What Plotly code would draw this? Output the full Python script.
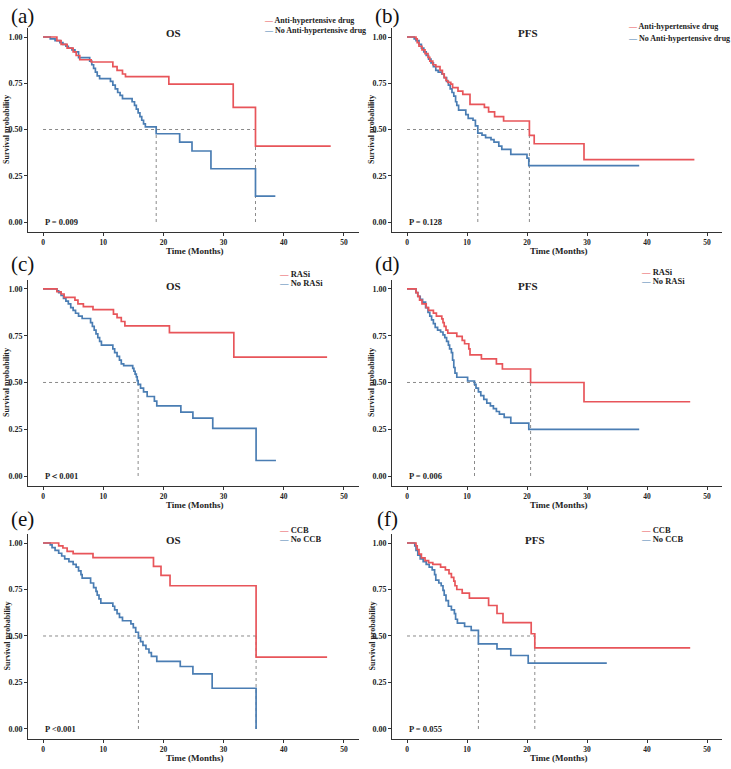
import plotly.graph_objects as go

# ---------------- data ----------------
panel_letters = ["(a)", "(b)", "(c)", "(d)", "(e)", "(f)"]
panel_titles = ["OS", "PFS", "OS", "PFS", "OS", "PFS"]
group_names = [
    ("Anti-hypertensive drug", "No Anti-hypertensive drug"),
    ("Anti-hypertensive drug", "No Anti-hypertensive drug"),
    ("RASi", "No RASi"),
    ("RASi", "No RASi"),
    ("CCB", "No CCB"),
    ("CCB", "No CCB"),
]
p_values = ["P = 0.009", "P = 0.128", "P\uff1c0.001", "P = 0.006", "P <0.001", "P = 0.055"]
x_ticks = [0, 10, 20, 30, 40, 50]
y_ticks = [0.0, 0.25, 0.5, 0.75, 1.0]

# (a) OS, anti-hypertensive drug
a_t1 = [0, 2.3, 3.0, 4.0, 5.0, 5.5, 6.1, 8.0, 11.6, 12.3, 13.2, 13.7, 20.9, 31.6, 35.3, 47.8]
a_s1 = [1, 0.98, 0.96, 0.94, 0.92, 0.90, 0.877, 0.865, 0.84, 0.82, 0.80, 0.786, 0.745, 0.62, 0.41, 0.41]
a_t2 = [0, 1.2, 2.0, 2.8, 3.3, 3.8, 4.2, 4.8, 5.3, 5.9, 7.75, 8.1, 8.4, 8.7, 9.0, 9.4, 11.2, 11.6,
        12.0, 12.4, 12.8, 13.2, 14.8, 15.2, 15.5, 15.8, 16.1, 16.4, 16.7, 17.0, 18.8, 22.7, 24.75,
        27.9, 35.3, 38.6]
a_s2 = [1, 0.99, 0.98, 0.97, 0.96, 0.95, 0.94, 0.93, 0.92, 0.888, 0.87, 0.85, 0.83, 0.81, 0.79,
        0.775, 0.76, 0.74, 0.72, 0.70, 0.685, 0.667, 0.65, 0.63, 0.61, 0.59, 0.57, 0.55, 0.53,
        0.514, 0.477, 0.432, 0.384, 0.288, 0.14, 0.14]

# (b) PFS, anti-hypertensive drug
b_t1 = [0, 1.5, 1.7, 2.0, 2.5, 3.0, 3.5, 3.8, 4.3, 4.8, 5.5, 5.9, 6.2, 6.5, 6.8, 7.3, 7.6, 8.5,
        9.3, 10.5, 12.9, 13.6, 14.6, 16.1, 20.4, 21.2, 29.5, 47.9]
b_s1 = [1, 0.99, 0.97, 0.95, 0.93, 0.91, 0.89, 0.87, 0.85, 0.84, 0.82, 0.80, 0.78, 0.765, 0.755,
        0.745, 0.726, 0.708, 0.69, 0.636, 0.62, 0.595, 0.57, 0.546, 0.468, 0.423, 0.337, 0.337]
b_t2 = [0, 1.2, 1.5, 2.0, 2.4, 2.8, 3.2, 3.6, 4.0, 4.4, 4.8, 5.2, 5.8, 6.2, 6.6, 6.9, 7.2, 7.5,
        7.8, 8.1, 8.3, 8.6, 9.8, 10.2, 11.0, 11.4, 11.8, 12.5, 13.1, 14.0, 14.5, 15.3, 15.8, 17.3,
        20.0, 20.3, 38.7]
b_s2 = [1, 0.99, 0.98, 0.96, 0.94, 0.92, 0.90, 0.88, 0.86, 0.84, 0.82, 0.81, 0.80, 0.78, 0.76,
        0.74, 0.72, 0.70, 0.68, 0.65, 0.63, 0.605, 0.58, 0.56, 0.55, 0.52, 0.48, 0.47, 0.456, 0.445,
        0.432, 0.41, 0.393, 0.366, 0.345, 0.305, 0.305]

# (c) OS, RASi
c_t1 = [0, 2.3, 3.0, 3.5, 5.3, 5.8, 6.7, 8.3, 11.7, 12.3, 13.0, 13.6, 21.0, 31.7, 47.2]
c_s1 = [1, 0.985, 0.973, 0.955, 0.94, 0.92, 0.905, 0.889, 0.865, 0.847, 0.826, 0.803, 0.767,
        0.636, 0.636]
c_t2 = [0, 2.3, 2.6, 3.0, 3.4, 3.8, 4.2, 4.6, 5.0, 5.4, 5.9, 6.5, 7.9, 8.2, 8.5, 8.8, 9.1, 9.4,
        9.7, 11.6, 11.9, 12.3, 12.7, 13.0, 13.4, 14.9, 15.1, 15.3, 15.5, 15.65, 15.8, 16.2, 16.7,
        17.3, 18.5, 18.9, 22.9, 24.9, 28.2, 35.4, 38.7]
c_s2 = [1, 0.99, 0.98, 0.965, 0.95, 0.935, 0.92, 0.90, 0.885, 0.87, 0.855, 0.842, 0.82, 0.80,
        0.78, 0.76, 0.74, 0.72, 0.70, 0.68, 0.66, 0.64, 0.62, 0.60, 0.59, 0.575, 0.56, 0.545, 0.53,
        0.51, 0.49, 0.47, 0.45, 0.425, 0.40, 0.375, 0.341, 0.309, 0.255, 0.083, 0.083]

# (d) PFS, RASi
d_t1 = [0, 1.5, 1.8, 2.1, 2.5, 3.2, 3.6, 4.4, 4.9, 5.8, 6.0, 6.2, 6.5, 6.8, 8.3, 9.2, 9.6, 10.3,
        10.5, 12.4, 14.9, 15.9, 20.6, 29.5, 47.2]
d_s1 = [1, 0.98, 0.96, 0.94, 0.92, 0.90, 0.885, 0.871, 0.855, 0.84, 0.82, 0.80, 0.78, 0.764,
        0.746, 0.725, 0.707, 0.68, 0.648, 0.626, 0.60, 0.572, 0.5, 0.397, 0.397]
d_t2 = [0, 1.5, 1.8, 2.2, 2.6, 3.1, 3.5, 3.8, 4.1, 4.4, 4.7, 5.1, 5.6, 6.0, 6.3, 6.6, 6.9, 7.1,
        7.4, 7.6, 7.8, 8.0, 8.3, 10.1, 11.25, 11.5, 11.9, 12.3, 12.8, 13.3, 13.9, 14.4, 14.9, 15.4,
        16.2, 17.3, 20.3, 38.7]
d_s2 = [1, 0.98, 0.96, 0.945, 0.93, 0.90, 0.875, 0.855, 0.835, 0.815, 0.795, 0.78, 0.77, 0.755,
        0.74, 0.72, 0.70, 0.68, 0.66, 0.62, 0.58, 0.55, 0.528, 0.508, 0.49, 0.47, 0.45, 0.43, 0.41,
        0.39, 0.375, 0.36, 0.345, 0.331, 0.313, 0.283, 0.249, 0.249]

# (e) OS, CCB
e_t1 = [0, 2.6, 3.3, 4.0, 5.0, 8.3, 18.35, 19.6, 21.1, 35.4, 47.2]
e_s1 = [1, 0.985, 0.973, 0.955, 0.943, 0.921, 0.874, 0.826, 0.77, 0.386, 0.386]
e_t2 = [0, 1.2, 1.5, 2.0, 2.6, 3.1, 3.6, 4.3, 5.0, 5.5, 5.9, 6.3, 6.5, 7.9, 8.4, 8.8, 9.0, 9.3,
        9.6, 11.6, 11.9, 12.3, 12.7, 13.2, 14.6, 15.0, 15.4, 15.85, 16.2, 16.6, 17.1, 17.6, 18.0,
        18.9, 22.8, 24.9, 28.1, 35.4]
e_s2 = [1, 0.99, 0.975, 0.96, 0.945, 0.93, 0.915, 0.90, 0.885, 0.87, 0.85, 0.83, 0.811, 0.785,
        0.76, 0.74, 0.72, 0.70, 0.677, 0.66, 0.64, 0.62, 0.60, 0.582, 0.565, 0.545, 0.52, 0.49,
        0.47, 0.45, 0.43, 0.41, 0.39, 0.363, 0.336, 0.296, 0.219, 0.0]

# (f) PFS, CCB
f_t1 = [0, 1.5, 1.7, 2.0, 2.4, 3.0, 3.6, 4.3, 5.6, 6.4, 7.0, 7.4, 7.8, 8.0, 8.3, 9.2, 10.4, 13.6,
        15.0, 16.0, 20.7, 21.3, 47.2]
f_s1 = [1, 0.985, 0.965, 0.94, 0.92, 0.905, 0.895, 0.885, 0.87, 0.856, 0.835, 0.815, 0.795,
        0.77, 0.75, 0.73, 0.704, 0.664, 0.621, 0.572, 0.512, 0.436, 0.436]
f_t2 = [0, 1.3, 1.5, 1.8, 2.2, 2.7, 3.2, 3.7, 4.2, 4.6, 4.8, 5.3, 5.7, 6.0, 6.2, 6.5, 6.9, 7.4,
        7.9, 8.1, 8.4, 9.6, 10.7, 11.9, 15.0, 17.3, 20.2, 33.3]
f_s2 = [1, 0.985, 0.96, 0.935, 0.915, 0.90, 0.885, 0.87, 0.855, 0.83, 0.80, 0.785, 0.77, 0.745,
        0.72, 0.69, 0.66, 0.64, 0.62, 0.59, 0.569, 0.551, 0.53, 0.458, 0.431, 0.395, 0.354, 0.354]

curves = [
    ((a_t1, a_s1), (a_t2, a_s2)),
    ((b_t1, b_s1), (b_t2, b_s2)),
    ((c_t1, c_s1), (c_t2, c_s2)),
    ((d_t1, d_s1), (d_t2, d_s2)),
    ((e_t1, e_s1), (e_t2, e_s2)),
    ((f_t1, f_s1), (f_t2, f_s2)),
]

# ---------------- style / layout ----------------
W, H = 731, 769
RED = "#E8555A"
BLUE = "#4A7DB3"
AX = "#333333"
FONT = "Liberation Serif"


def fx(p):
    return p / W


def fy(p):
    return 1 - p / H


# pixel geometry per panel: x-domain, y-domain (top, bottom), letter, title, legend, axis titles
cols = [dict(x0=28, x1=359, letter=22, title=173, leg=262, ytit=7, xtit=195),
        dict(x0=392, x1=722, letter=387, title=528, leg=626, ytit=372, xtit=559)]
rows = [dict(y0=27.75, y1=232.2, letter=16, title=35, leg=(20, 31), xtit=250.5),
        dict(y0=279.6, y1=486.3, letter=264, title=288, leg=(274, 283), xtit=504.6),
        dict(y0=533.7, y1=739.2, letter=519, title=542, leg=(530, 539), xtit=757.5)]
leg_rows_b = [(27, 38), (272, 281), (530, 539)]


def median_time(t, s):
    for ti, si in zip(t, s):
        if si <= 0.5:
            return ti
    return None


fig = go.Figure()
annotations = []
layout_axes = {}

for i in range(6):
    r, c = divmod(i, 2)
    col, row = cols[c], rows[r]
    n = "" if i == 0 else str(i + 1)
    xa, ya = "x" + n, "y" + n

    layout_axes["xaxis" + n] = dict(
        domain=[fx(col["x0"]), fx(col["x1"])], range=[-2.5, 52.5], anchor=ya,
        tickvals=x_ticks, showline=True, linecolor=AX, linewidth=1, ticks="outside",
        ticklen=3, tickcolor=AX, showgrid=False, zeroline=False,
        tickfont=dict(family=FONT, size=7.5, color="#222", weight="bold"),
    )
    layout_axes["yaxis" + n] = dict(
        domain=[fy(row["y1"]), fy(row["y0"])], range=[-0.055, 1.05], anchor=xa,
        tickvals=y_ticks, tickformat=".2f", showline=True, linecolor=AX, linewidth=1,
        ticks="outside", ticklen=3, tickcolor=AX, showgrid=False, zeroline=False,
        tickfont=dict(family=FONT, size=8, color="#222", weight="bold"),
    )

    (t1, s1), (t2, s2) = curves[i]
    # median reference lines
    meds = [m for m in (median_time(t1, s1), median_time(t2, s2)) if m is not None]
    if meds:
        fig.add_trace(go.Scatter(x=[0, max(meds)], y=[0.5, 0.5], mode="lines",
                                 line=dict(color="#8a8a8a", width=1, dash="dot"),
                                 xaxis=xa, yaxis=ya, showlegend=False, hoverinfo="skip"))
        for m in meds:
            fig.add_trace(go.Scatter(x=[m, m], y=[0, 0.5], mode="lines",
                                     line=dict(color="#8a8a8a", width=1, dash="dot"),
                                     xaxis=xa, yaxis=ya, showlegend=False, hoverinfo="skip"))
    # survival curves
    fig.add_trace(go.Scatter(x=t2, y=s2, mode="lines", line=dict(color=BLUE, width=1.7, shape="hv"),
                             xaxis=xa, yaxis=ya, name=group_names[i][1], showlegend=False))
    fig.add_trace(go.Scatter(x=t1, y=s1, mode="lines", line=dict(color=RED, width=1.7, shape="hv"),
                             xaxis=xa, yaxis=ya, name=group_names[i][0], showlegend=False))

    # panel letter
    annotations.append(dict(text=panel_letters[i], x=fx(col["letter"]), y=fy(row["letter"]),
                            xref="paper", yref="paper", showarrow=False,
                            xanchor="center", yanchor="middle",
                            font=dict(family=FONT, size=21, color="#111")))
    # panel title
    annotations.append(dict(text=panel_titles[i], x=fx(col["title"] + (7 if i == 5 else 0)),
                            y=fy(row["title"] - 2), xref="paper", yref="paper", showarrow=False,
                            xanchor="center", yanchor="middle",
                            font=dict(family=FONT, size=11, color="#222", weight="bold")))
    # legend
    leg_y = leg_rows_b[r] if c == 1 else row["leg"]
    leg_x = col["leg"] + (15 if (c == 0 and r > 0) else 0) + (13 if (c == 1 and r > 0) else 0)
    for k, colr in enumerate((RED, BLUE)):
        annotations.append(dict(
            text=f"<span style='color:{colr}'>\u2014</span> {group_names[i][k]}",
            x=fx(leg_x), y=fy(leg_y[k]), xref="paper", yref="paper", xanchor="left",
            yanchor="middle", showarrow=False,
            font=dict(family=FONT, size=8.5 if r > 0 else 8, color="#222", weight="bold")))
    # p-value
    annotations.append(dict(text=p_values[i], x=0, y=0.0, xref=xa, yref=ya, xanchor="left",
                            yanchor="middle", showarrow=False,
                            font=dict(family=FONT, size=8.5, color="#222", weight="bold")))
    # axis titles
    annotations.append(dict(text="Time (Months)", x=fx(col["xtit"]), y=fy(row["xtit"]),
                            xref="paper", yref="paper", showarrow=False,
                            xanchor="center", yanchor="middle",
                            font=dict(family=FONT, size=9, color="#222", weight="bold")))
    annotations.append(dict(text="Survival probability", x=fx(col["ytit"]),
                            y=(fy(row["y0"]) + fy(row["y1"])) / 2, xref="paper", yref="paper",
                            showarrow=False, textangle=-90, xanchor="center", yanchor="middle",
                            font=dict(family=FONT, size=8, color="#222", weight="bold")))

fig.update_layout(
    width=W, height=H, margin=dict(l=0, r=0, t=0, b=0),
    paper_bgcolor="white", plot_bgcolor="white", showlegend=False,
    annotations=annotations, **layout_axes,
)

fig.write_html("out.html", config={"displayModeBar": False},
               post_script="document.body.style.margin='0px';")
